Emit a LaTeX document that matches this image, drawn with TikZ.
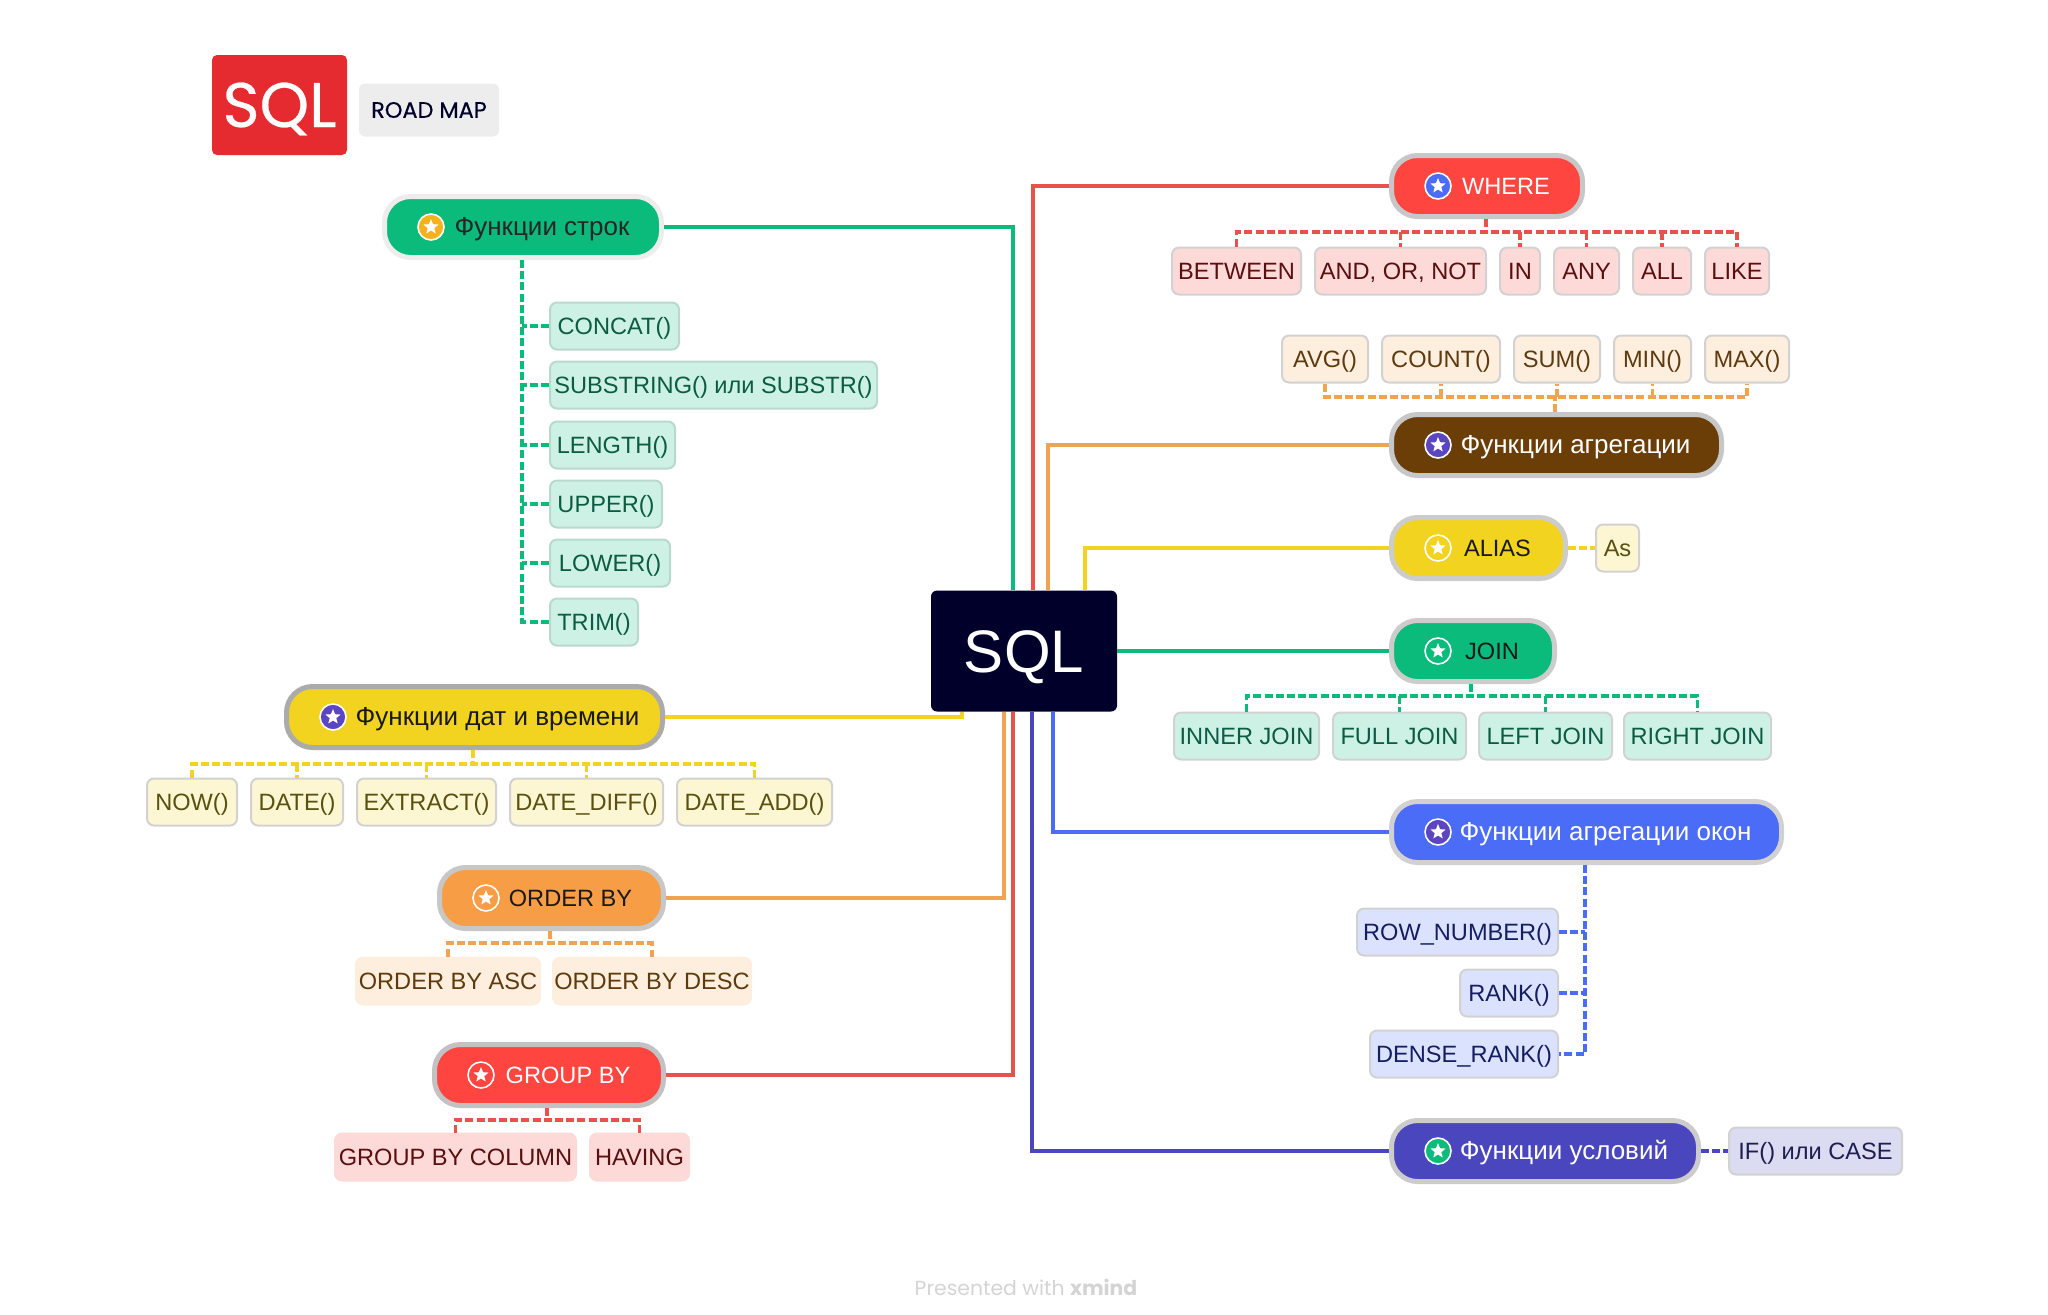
\documentclass[tikz,border=0pt]{standalone}
\usepackage{fontspec}
\setmainfont{Liberation Sans}
\newfontfamily\logofont[FakeBold=0.4]{Poppins}
\newfontfamily\creditfont{Poppins}
\usepackage{xcolor}
\usetikzlibrary{positioning, shapes.geometric}

\definecolor{navy}{HTML}{00002B}
\definecolor{logored}{HTML}{E52B2F}
\definecolor{greenc}{HTML}{0ABB7C}
\definecolor{redc}{HTML}{FF4540}
\definecolor{redline}{HTML}{E9524B}
\definecolor{brownc}{HTML}{6B3E07}
\definecolor{yellowc}{HTML}{F2D31F}
\definecolor{bluec}{HTML}{4A6CF7}
\definecolor{indigoc}{HTML}{4A46BD}
\definecolor{orangec}{HTML}{F79D45}
\definecolor{orangeline}{HTML}{F0A452}
\definecolor{purplec}{HTML}{5B45C0}
\definecolor{amberc}{HTML}{F5B21B}
\definecolor{greenl}{HTML}{CEF1E5}
\definecolor{redl}{HTML}{FDD9D7}
\definecolor{orangel}{HTML}{FDEEDE}
\definecolor{yellowl}{HTML}{FCF6D2}
\definecolor{bluel}{HTML}{DBE2FD}
\definecolor{indigol}{HTML}{DBDBF2}
\definecolor{greeni}{HTML}{0B5C42}
\definecolor{redi}{HTML}{5A0F10}
\definecolor{orangei}{HTML}{5E3A0F}
\definecolor{yellowi}{HTML}{5A5010}
\definecolor{bluei}{HTML}{141E60}
\definecolor{indigoi}{HTML}{1E1E50}

\begin{document}
\begin{tikzpicture}[
  x=0.5pt, y=-0.5pt,
  node distance=6pt,
  basefont/.style={font=\fontsize{11.8}{14}\selectfont, text height=8.5pt, text depth=0pt},
  cyrfont/.style={font=\fontsize{13}{15}\selectfont},
  pill/.style={
    rectangle,
    rounded corners=13pt,
    line width=2.5pt,
    draw=gray!45,
    minimum height=30.5pt,
    inner sep=0pt,
    basefont,
    execute at begin node={\hspace{19pt}}
  },
  staricon/.style={
    circle,
    fill=#1,
    draw=white,
    line width=0.8pt,
    minimum size=13pt,
    inner sep=0pt,
    label={[star, star points=5, star point ratio=2.3, fill=white, inner sep=0pt, minimum size=8pt]center:{}}
  },
  leaf/.style={
    rectangle,
    rounded corners=3.5pt,
    line width=1pt,
    draw=gray!35,
    minimum height=23.5pt,
    inner sep=0pt,
    basefont
  },
  greenleaf/.style={leaf, fill=greenl, text=greeni},
  redleaf/.style={leaf, fill=redl, text=redi},
  orangeleaf/.style={leaf, fill=orangel, text=orangei},
  yellowleaf/.style={leaf, fill=yellowl, text=yellowi},
  blueleaf/.style={leaf, fill=bluel, text=bluei},
  indigoleaf/.style={leaf, fill=indigol, text=indigoi},
  link/.style={line width=1.7pt, draw=#1},
  bus/.style={line width=1.6pt, draw=#1, dash pattern=on 4pt off 1.6pt}
]
\useasboundingbox (0,0) rectangle (2048,1314);

% header
\node[rectangle, rounded corners=2.5pt, fill=logored, text=white, minimum width=67.5pt, minimum height=50pt, inner sep=0pt, text height=22pt, text depth=0pt, font=\logofont\fontsize{31.5}{34}\selectfont] (logo) at (279.5,105) {SQL};
\node[rectangle, rounded corners=3pt, fill=black!7, text=navy, minimum width=70pt, minimum height=26.5pt, inner sep=0pt, font=\logofont\fontsize{11.2}{13}\selectfont] (roadmap) at (429,110) {ROAD MAP};

% root
\node[rectangle, rounded corners=3pt, fill=navy, text=white, minimum width=93pt, minimum height=60.5pt, inner sep=0pt, text height=21.5pt, text depth=0pt, font=\fontsize{30}{34}\selectfont] (sql) at (1024,651) {SQL};

% topics on the left
\node[pill, cyrfont, fill=greenc, draw=black!7, text=black!85] (strfn) at (523,227) [minimum width=138.5pt] {Функции строк};
\node[pill, cyrfont, fill=yellowc, draw=black!33, text=black!90] (datefn) at (474.5,717) [minimum width=188pt] {\hspace{4pt}Функции дат и времени};
\node[pill, fill=orangec, draw=black!22, text=black!90] (orderby) at (551.5,898) [minimum width=112pt] {ORDER BY};
\node[pill, fill=redc, draw=black!24, text=white] (groupby) at (549,1075) [minimum width=114.5pt] {GROUP BY};

% topics on the right
\node[pill, fill=redc, draw=black!22, text=white] (where) at (1487,186) [minimum width=95.5pt] {WHERE};
\node[pill, cyrfont, fill=brownc, draw=black!22, text=white] (aggfn) at (1556.5,445) [minimum width=165pt] {Функции агрегации};
\node[pill, fill=yellowc, draw=black!20, text=black!90] (alias) at (1478.5,548) [minimum width=87pt] {ALIAS};
\node[pill, fill=greenc, draw=black!20, text=black!90] (join) at (1473,651) [minimum width=81.5pt] {JOIN};
\node[pill, cyrfont, fill=bluec, draw=black!18, text=white] (winfn) at (1586.5,832) [minimum width=195pt] {Функции агрегации окон};
\node[pill, cyrfont, fill=indigoc, draw=black!20, text=white] (condfn) at (1545,1151) [minimum width=153.5pt] {Функции условий};

% icons
\node[staricon=amberc] (strstar) at ([xshift=24.5pt]strfn.west) {};
\node[staricon=purplec] (datestar) at ([xshift=24.5pt]datefn.west) {};
\node[staricon=orangec] (orderstar) at ([xshift=24.5pt]orderby.west) {};
\node[staricon=redc] (groupstar) at ([xshift=24.5pt]groupby.west) {};
\node[staricon=bluec] (wherestar) at ([xshift=24.5pt]where.west) {};
\node[staricon=purplec] (aggstar) at ([xshift=24.5pt]aggfn.west) {};
\node[staricon=yellowc] (aliasstar) at ([xshift=24.5pt]alias.west) {};
\node[staricon=greenc] (joinstar) at ([xshift=24.5pt]join.west) {};
\node[staricon=purplec] (winstar) at ([xshift=24.5pt]winfn.west) {};
\node[staricon=greenc] (condstar) at ([xshift=24.5pt]condfn.west) {};

% string functions
\node[greenleaf, draw=greenl!90!black, anchor=west, minimum width=64.5pt] (concat) at (549,326) {CONCAT()};
\node[greenleaf, draw=greenl!90!black, anchor=west, minimum width=163.5pt] (substring) at (549,385) {SUBSTRING() или SUBSTR()};
\node[greenleaf, draw=greenl!90!black, anchor=west, minimum width=62.5pt] (length) at (549,445) {LENGTH()};
\node[greenleaf, draw=greenl!90!black, anchor=west, minimum width=56pt] (upper) at (549,504) {UPPER()};
\node[greenleaf, draw=greenl!90!black, anchor=west, minimum width=60pt] (lower) at (549,563) {LOWER()};
\node[greenleaf, draw=greenl!90!black, anchor=west, minimum width=44pt] (trim) at (549,622) {TRIM()};

% date functions
\node[yellowleaf, anchor=west, minimum width=45pt] (now) at (146,802) {NOW()};
\node[yellowleaf, right=of now, minimum width=46pt] (date) {DATE()};
\node[yellowleaf, right=of date, minimum width=69.5pt] (extract) {EXTRACT()};
\node[yellowleaf, right=of extract, minimum width=76.5pt] (datediff) {DATE\_DIFF()};
\node[yellowleaf, right=of datediff, minimum width=77.5pt] (dateadd) {DATE\_ADD()};

% order by
\node[orangeleaf, draw=orangel, anchor=west, minimum width=92pt] (orderasc) at (355,981) {ORDER BY ASC};
\node[orangeleaf, draw=orangel, right=5.5pt of orderasc, minimum width=99pt] (orderdesc) {ORDER BY DESC};

% group by
\node[redleaf, draw=redl, anchor=west, minimum width=120.5pt] (groupcol) at (334,1157) {GROUP BY COLUMN};
\node[redleaf, draw=redl, right=of groupcol, minimum width=49.5pt] (having) {HAVING};

% where
\node[redleaf, anchor=west, minimum width=64.5pt] (between) at (1171,271) {BETWEEN};
\node[redleaf, right=of between, minimum width=85.5pt] (andornot) {AND, OR, NOT};
\node[redleaf, right=of andornot, minimum width=20pt] (in) {IN};
\node[redleaf, right=of in, minimum width=32.5pt] (any) {ANY};
\node[redleaf, right=of any, minimum width=29pt] (all) {ALL};
\node[redleaf, right=of all, minimum width=32pt] (like) {LIKE};

% aggregates
\node[orangeleaf, anchor=west, minimum width=43pt] (avg) at (1281,359) {AVG()};
\node[orangeleaf, right=of avg, minimum width=59pt] (count) {COUNT()};
\node[orangeleaf, right=of count, minimum width=43pt] (sum) {SUM()};
\node[orangeleaf, right=of sum, minimum width=38.5pt] (min) {MIN()};
\node[orangeleaf, right=of min, minimum width=42pt] (max) {MAX()};

% alias
\node[yellowleaf, minimum width=21.5pt] (as) at (1617.5,548) {As};

% joins
\node[greenleaf, anchor=west, minimum width=72.5pt] (innerjoin) at (1173,736) {INNER JOIN};
\node[greenleaf, right=of innerjoin, minimum width=66.5pt] (fulljoin) {FULL JOIN};
\node[greenleaf, right=5.5pt of fulljoin, minimum width=66.5pt] (leftjoin) {LEFT JOIN};
\node[greenleaf, right=5pt of leftjoin, minimum width=73.5pt] (rightjoin) {RIGHT JOIN};

% window functions
\node[blueleaf, anchor=east, minimum width=100.5pt] (rownumber) at (1559,932) {ROW\_NUMBER()};
\node[blueleaf, anchor=east, minimum width=49pt] (rank) at (1559,993) {RANK()};
\node[blueleaf, anchor=east, minimum width=94pt] (denserank) at (1559,1054) {DENSE\_RANK()};

% conditions
\node[indigoleaf, minimum width=86.5pt] (ifcase) at (1815.5,1151) {IF() или CASE};

% footer
\node[text=black!17, font=\creditfont\fontsize{10.2}{12}\selectfont] (credit) at (1026,1287) {Presented with \textbf{xmind}};

% root links
\draw[link=greenc] (strfn.east) -| ([xshift=-5.5pt]sql.north);
\draw[link=yellowc] (datefn.east) -| ([xshift=-31pt]sql.south);
\draw[link=orangeline] (orderby.east) -| ([xshift=-10pt]sql.south);
\draw[link=redline] (groupby.east) -| ([xshift=-5.5pt]sql.south);
\draw[link=redline] (where.west) -| ([xshift=4.5pt]sql.north);
\draw[link=orangeline] (aggfn.west) -| ([xshift=12pt]sql.north);
\draw[link=yellowc] (alias.west) -| ([xshift=30.5pt]sql.north);
\draw[link=greenc] (sql.east) -- (join.west);
\draw[link=bluec] (winfn.west) -| ([xshift=14.5pt]sql.south);
\draw[link=indigoc] (condfn.west) -| ([xshift=4pt]sql.south);

% bus lines
\coordinate (strbus) at (522,300);
\coordinate (datebus) at (473,764);
\coordinate (orderbus) at (550,943);
\coordinate (groupbus) at (547,1120);
\coordinate (wherebus) at (1486,232);
\coordinate (aggbus) at (1555,397);
\coordinate (joinbus) at (1471,696);
\coordinate (winbus) at (1585,900);

\draw[bus=greenc] (strfn.south -| strbus) |- (trim.west);
\draw[bus=greenc] (concat.west) -- (concat.west -| strbus);
\draw[bus=greenc] (substring.west) -- (substring.west -| strbus);
\draw[bus=greenc] (length.west) -- (length.west -| strbus);
\draw[bus=greenc] (upper.west) -- (upper.west -| strbus);
\draw[bus=greenc] (lower.west) -- (lower.west -| strbus);

\draw[bus=yellowc] (datefn.south -| datebus) -- (datebus);
\draw[bus=yellowc] (now.north) |- (datebus -| dateadd) -- (dateadd.north);
\draw[bus=yellowc] (datebus -| date) -- (date.north);
\draw[bus=yellowc] (datebus -| extract) -- (extract.north);
\draw[bus=yellowc] (datebus -| datediff) -- (datediff.north);

\draw[bus=orangeline] (orderby.south -| orderbus) -- (orderbus);
\draw[bus=orangeline] (orderasc.north) |- (orderbus -| orderdesc) -- (orderdesc.north);

\draw[bus=redline] (groupby.south -| groupbus) -- (groupbus);
\draw[bus=redline] (groupcol.north) |- (groupbus -| having) -- (having.north);

\draw[bus=redline] (where.south -| wherebus) -- (wherebus);
\draw[bus=redline] (between.north) |- (wherebus -| like) -- (like.north);
\draw[bus=redline] (wherebus -| andornot) -- (andornot.north);
\draw[bus=redline] (wherebus -| in) -- (in.north);
\draw[bus=redline] (wherebus -| any) -- (any.north);
\draw[bus=redline] (wherebus -| all) -- (all.north);

\draw[bus=orangeline] (aggfn.north -| aggbus) -- (aggbus);
\draw[bus=orangeline] (avg.south) |- (aggbus -| max) -- (max.south);
\draw[bus=orangeline] (aggbus -| count) -- (count.south);
\draw[bus=orangeline] (aggbus -| sum) -- (sum.south);
\draw[bus=orangeline] (aggbus -| min) -- (min.south);

\draw[bus=yellowc] (alias.east) -- (as.west);

\draw[bus=greenc] (join.south -| joinbus) -- (joinbus);
\draw[bus=greenc] (innerjoin.north) |- (joinbus -| rightjoin) -- (rightjoin.north);
\draw[bus=greenc] (joinbus -| fulljoin) -- (fulljoin.north);
\draw[bus=greenc] (joinbus -| leftjoin) -- (leftjoin.north);

\draw[bus=bluec] (winfn.south -| winbus) |- (denserank.east);
\draw[bus=bluec] (rownumber.east) -- (rownumber.east -| winbus);
\draw[bus=bluec] (rank.east) -- (rank.east -| winbus);

\draw[bus=indigoc] (condfn.east) -- (ifcase.west);
\end{tikzpicture}
\end{document}
